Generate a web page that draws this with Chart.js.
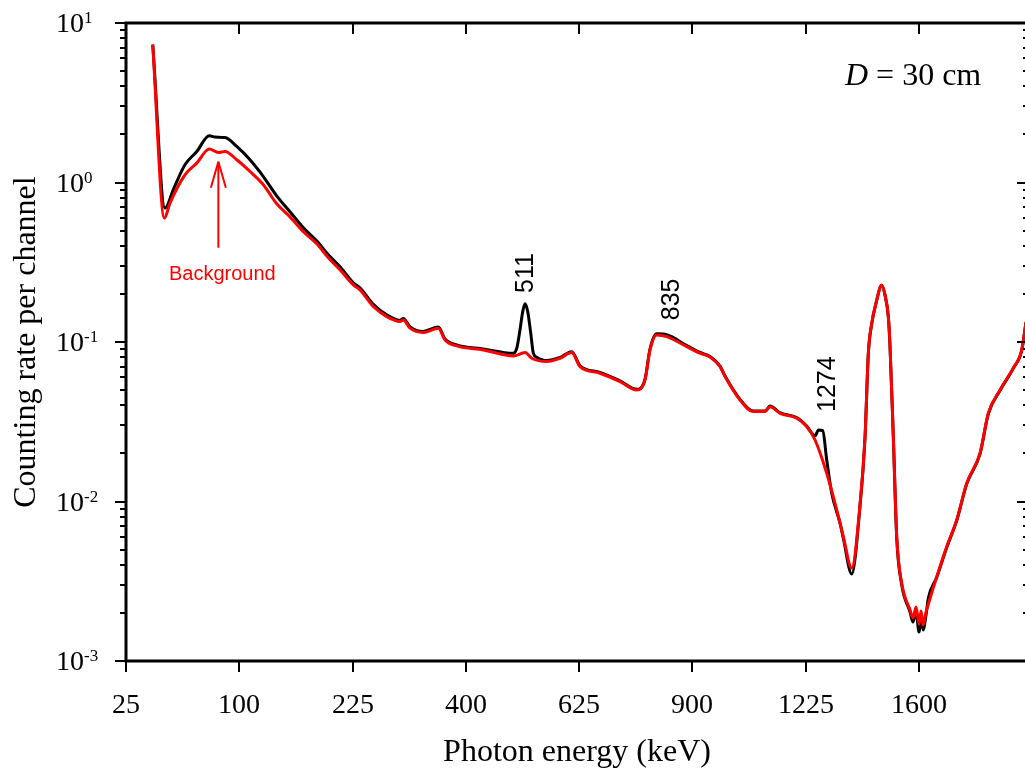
<!DOCTYPE html>
<html>
<head>
<meta charset="utf-8">
<title>Spectrum, D = 30 cm</title>
<script src="https://cdn.jsdelivr.net/npm/chart.js@4.4.1/dist/chart.umd.min.js"></script>
<style>
  html, body { margin: 0; padding: 0; overflow: hidden; background: #fff; }
  canvas { display: block; }
</style>
</head>
<body>
<canvas id="spectrumChart" width="1040" height="770"></canvas>
<script>
// values (keV, counts per channel)
const energyMeasured = [38.2, 45.2, 50.2, 57.8, 66.0, 75.3, 79.7, 87.8, 97.8, 109.7,
  122.4, 135.8, 149.8, 164.6, 180.1, 194.1, 208.7, 226.1, 235.0, 253.4,
  272.6, 292.3, 297.3, 307.6, 328.5, 353.0, 364.2, 384.2, 431.6, 488.4,
  495.1, 501.5, 506.9, 511.5, 516.9, 523.0, 528.2, 535.1, 555.7, 583.8,
  609.0, 627.2, 672.2, 718.8, 758.9, 779.2, 791.6, 808.3, 833.6, 885.4,
  920.6, 947.6, 975.0, 988.9, 1030.9, 1069, 1103, 1117.8, 1147.5, 1198,
  1228.7, 1254.6, 1265.5, 1278.7, 1291.4, 1307.3, 1333.9, 1344.6, 1371.9, 1399.2,
  1415.8, 1426.8, 1438.2, 1452.6, 1471.8, 1483, 1494.3, 1500.1, 1511.4, 1523.1,
  1540.4, 1569.3, 1579.8, 1590.3, 1600.9, 1607.9, 1615.1, 1625.7, 1634, 1664.1,
  1700.2, 1736.8, 1773.8, 1823.6, 1855.1, 1899.8, 1951.4, 1984.3, 2001.2];
const rateMeasured = [7.31, 0.691, 0.900, 1.291, 1.565, 1.963, 1.927, 1.915, 1.682, 1.388,
  1.090, 0.825, 0.655, 0.520, 0.4306, 0.352, 0.296, 0.2349, 0.2185, 0.1722,
  0.1479, 0.1366, 0.1406, 0.1244, 0.1165, 0.1244, 0.1045, 0.0959, 0.0905, 0.0851,
  0.0914, 0.1191, 0.1551, 0.1734, 0.1551, 0.1136, 0.0851, 0.0803, 0.0765, 0.0800,
  0.0870, 0.0710, 0.0645, 0.0571, 0.0505, 0.0585, 0.0905, 0.1125, 0.1110, 0.0950,
  0.0860, 0.0812, 0.0707, 0.0612, 0.0437, 0.0369, 0.0369, 0.0397, 0.0360, 0.0336,
  0.0297, 0.0258, 0.0281, 0.0278, 0.0182, 0.01126, 0.00733, 0.0059, 0.00351, 0.0094,
  0.0252, 0.0845, 0.130, 0.175, 0.226, 0.196, 0.143, 0.093, 0.0252, 0.0059,
  0.0030, 0.00203, 0.001754, 0.002056, 0.001518, 0.00194, 0.001563, 0.00194, 0.00248, 0.00335,
  0.00515, 0.0076, 0.0129, 0.0199, 0.0355, 0.0497, 0.0684, 0.0887, 0.1330];

const energyBackground = [38.2, 44.8, 48.2, 57.8, 66.0, 75.3, 82.4, 87.8, 97.8, 109.7,
  122.4, 135.8, 149.8, 164.6, 180.1, 194.1, 208.7, 226.1, 235.0, 253.4,
  272.6, 292.3, 297.3, 307.6, 328.5, 353.0, 364.2, 384.2, 431.6, 488.4,
  511.5, 525.0, 555.7, 583.8, 609.0, 627.2, 672.2, 718.8, 758.9, 779.2,
  791.6, 808.3, 833.6, 885.4, 920.6, 947.6, 975.0, 988.9, 1030.9, 1069,
  1103, 1117.8, 1147.5, 1198, 1228.7, 1254.6, 1291.4, 1323.3, 1344.6, 1371.9,
  1399.2, 1415.8, 1426.8, 1438.2, 1452.6, 1471.8, 1483, 1494.3, 1500.1, 1511.4,
  1523.1, 1540.4, 1569.3, 1579.8, 1590.3, 1600.9, 1607.9, 1615.1, 1625.7, 1634,
  1664.1, 1700.2, 1736.8, 1773.8, 1823.6, 1855.1, 1899.8, 1951.4, 1984.3, 2001.2];
const rateBackground = [7.31, 0.598, 0.743, 1.118, 1.323, 1.62, 1.543, 1.565, 1.388, 1.172,
  0.967, 0.735, 0.609, 0.491, 0.4125, 0.337, 0.2834, 0.228, 0.2123, 0.1668,
  0.1443, 0.1343, 0.1376, 0.1221, 0.1149, 0.1221, 0.1031, 0.0945, 0.0892, 0.0818,
  0.0858, 0.0791, 0.0754, 0.0791, 0.0858, 0.0701, 0.0637, 0.0564, 0.0500, 0.0578,
  0.0892, 0.1108, 0.1081, 0.0936, 0.0851, 0.0806, 0.0701, 0.0607, 0.0433, 0.0366,
  0.0366, 0.0393, 0.0357, 0.0333, 0.02946, 0.0243, 0.01503, 0.00885, 0.00601, 0.003827,
  0.00954, 0.0255, 0.0851, 0.1312, 0.176, 0.228, 0.1974, 0.1443, 0.0936, 0.0255,
  0.00601, 0.003068, 0.002086, 0.001858, 0.002178, 0.001702, 0.002056, 0.001677, 0.002026, 0.002278,
  0.003374, 0.005204, 0.007655, 0.0130, 0.02007, 0.03574, 0.0500, 0.0688, 0.0892, 0.1337];

const xTickLabels = [25, 100, 225, 400, 625, 900, 1225, 1600];
const yTickExponents = [-3, -2, -1, 0, 1];
const peakLabels = ['511', '835', '1274'];
const peakEnergies = [511, 835, 1274];

const toPoints = (energies, rates) => energies.map((e, i) => ({ x: Math.sqrt(e), y: rates[i] }));

// axes, ticks, titles and annotations drawn on top of the lines
const axesFrame = {
  id: 'axesFrame',
  afterDatasetsDraw(chart) {
    const ctx = chart.ctx;
    const area = chart.chartArea;
    const xScale = chart.scales.x;
    const yScale = chart.scales.y;
    const line = (x1, y1, x2, y2) => {
      ctx.beginPath();
      ctx.moveTo(x1, y1);
      ctx.lineTo(x2, y2);
      ctx.stroke();
    };
    ctx.save();
    ctx.strokeStyle = '#000';
    ctx.fillStyle = '#000';

    ctx.lineWidth = 3;
    ctx.strokeRect(area.left, area.top, area.right - area.left, area.bottom - area.top);

    // x ticks: square-root energy axis
    ctx.lineWidth = 2;
    ctx.font = '28px "Liberation Serif"';
    ctx.textAlign = 'center';
    ctx.textBaseline = 'alphabetic';
    xTickLabels.forEach(e => {
      const px = Math.round(xScale.getPixelForValue(Math.sqrt(e)));
      line(px, area.bottom, px, area.bottom + 11);
      line(px, area.top, px, area.top + 11);
      ctx.fillText(String(e), px, area.bottom + 52);
    });

    // y ticks: log axis, major and minor
    yTickExponents.forEach(p => {
      const py = Math.round(yScale.getPixelForValue(Math.pow(10, p)));
      line(area.left - 11, py, area.left, py);
      line(area.right - 11, py, area.right, py);
      if (p < 1) {
        for (let m = 2; m <= 9; m++) {
          const my = Math.round(yScale.getPixelForValue(m * Math.pow(10, p)));
          line(area.left - 6, my, area.left, my);
          line(area.right - 5, my, area.right, my);
        }
      }
      ctx.textAlign = 'left';
      ctx.font = '28px "Liberation Serif"';
      ctx.fillText('10', 56, py + 9);
      const w = ctx.measureText('10').width;
      ctx.font = '17px "Liberation Serif"';
      ctx.fillText(String(p), 56 + w, py);
    });

    // axis titles
    ctx.font = '32px "Liberation Serif"';
    ctx.textAlign = 'center';
    ctx.fillText('Photon energy (keV)', (area.left + area.right) / 2, 761);
    ctx.save();
    ctx.translate(35, (area.top + area.bottom) / 2);
    ctx.rotate(-Math.PI / 2);
    ctx.fillText('Counting rate per channel', 0, 0);
    ctx.restore();

    // D = 30 cm
    ctx.textAlign = 'left';
    ctx.font = 'italic 32px "Liberation Serif"';
    ctx.fillText('D', 845, 85);
    const dw = ctx.measureText('D').width;
    ctx.font = '32px "Liberation Serif"';
    ctx.fillText(' = 30 cm', 845 + dw, 85);

    // peak labels
    const labelRates = [0.203, 0.137, 0.0364];
    const labelShift = [0, 4, 6];
    ctx.font = '25px "Liberation Sans"';
    ctx.textBaseline = 'middle';
    peakLabels.forEach((t, i) => {
      const px = xScale.getPixelForValue(Math.sqrt(peakEnergies[i])) + labelShift[i];
      const py = yScale.getPixelForValue(labelRates[i]);
      ctx.save();
      ctx.translate(px, py);
      ctx.rotate(-Math.PI / 2);
      ctx.fillText(t, 0, 1);
      ctx.restore();
    });

    // background arrow
    ctx.strokeStyle = '#ff0000';
    ctx.fillStyle = '#ff0000';
    ctx.lineWidth = 2;
    const ax = xScale.getPixelForValue(Math.sqrt(82.4));
    const tipY = yScale.getPixelForValue(1.35);
    const baseY = yScale.getPixelForValue(0.39);
    line(ax, baseY, ax, tipY);
    line(ax - 7.5, tipY + 26, ax, tipY);
    line(ax + 7.5, tipY + 26, ax, tipY);
    ctx.font = '20px "Liberation Sans"';
    ctx.textAlign = 'center';
    ctx.textBaseline = 'alphabetic';
    ctx.fillText('Background', ax + 4, baseY + 32);

    ctx.restore();
  }
};

const spectrumChart = new Chart(document.getElementById('spectrumChart'), {
  type: 'line',
  data: {
    datasets: [
      {
        label: 'Measured',
        data: toPoints(energyMeasured, rateMeasured),
        borderColor: '#000000',
        borderWidth: 3,
        pointRadius: 0,
        cubicInterpolationMode: 'monotone',
        order: 2
      },
      {
        label: 'Background',
        data: toPoints(energyBackground, rateBackground),
        borderColor: '#ff0000',
        borderWidth: 3,
        pointRadius: 0,
        cubicInterpolationMode: 'monotone',
        order: 1
      }
    ]
  },
  options: {
    responsive: false,
    animation: false,
    devicePixelRatio: 1,
    layout: { padding: { left: 126, top: 23, right: 12, bottom: 109 } },
    scales: {
      x: { type: 'linear', display: false, min: Math.sqrt(25), max: Math.sqrt(2009) },
      y: { type: 'logarithmic', display: false, min: 0.001, max: 10 }
    },
    plugins: {
      legend: { display: false },
      tooltip: { enabled: false }
    }
  },
  plugins: [axesFrame]
});
</script>
</body>
</html>
